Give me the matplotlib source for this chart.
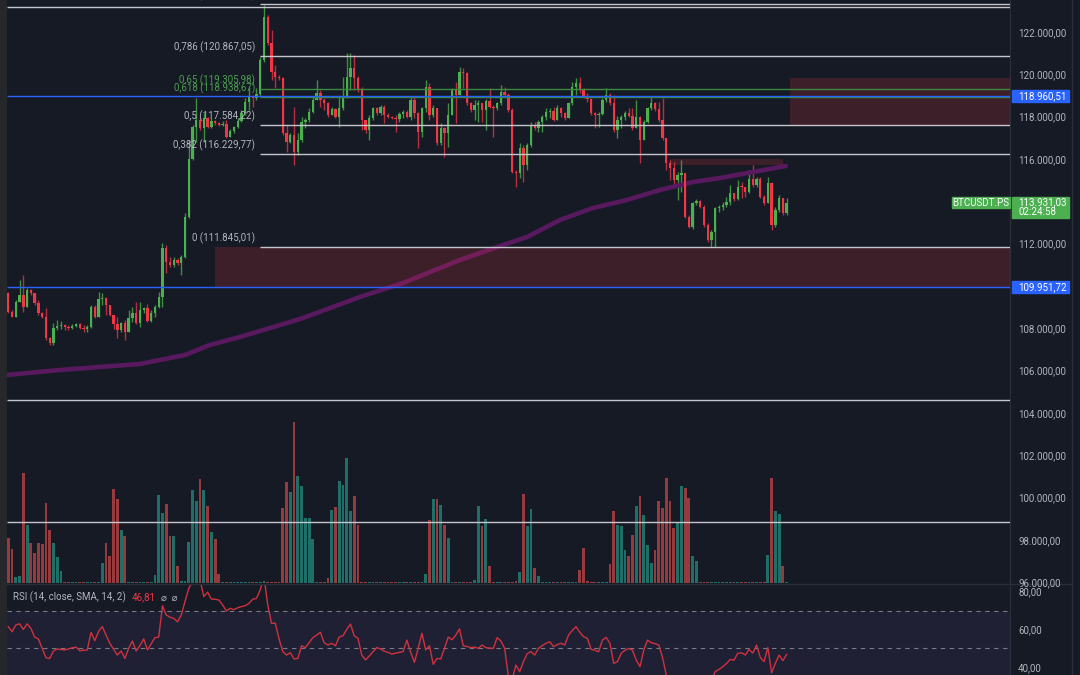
import matplotlib
matplotlib.use('Agg')
import matplotlib.pyplot as plt
import matplotlib.transforms as mtransforms
from matplotlib.patches import Rectangle

plt.rcParams['font.family'] = ['Roboto', 'DejaVu Sans']

# candles, oldest first; every candle opens at the previous close
first_open = 109642
closes = [
    108775, 108539, 109248, 109563, 109011, 109799, 109642, 109169, 108697, 108508,
    107515, 107279, 107988, 108114, 108161, 108035, 107988, 108114, 108177, 107988,
    107941, 108067, 109011, 108508, 109358, 109405, 109090, 108618, 108193, 107909,
    108224, 107830, 108460, 108728, 108224, 108854, 108933, 108334, 108697, 109011,
    109484, 111768, 111138, 110980, 111217, 111090, 111374, 113261, 115970, 117514,
    117829, 117435, 117908, 117514, 117798, 117672, 117610, 117640, 117042, 117325,
    117514, 117798, 118144, 118695, 118932, 118853, 119058, 120664, 122712, 121452,
    120113, 119876, 119798, 117199, 116805, 117120, 116333, 116884, 117750, 117829,
    118222, 118774, 119089, 118774, 118617, 118066, 118333, 117987, 118380, 118932,
    119877, 120271, 119799, 119248, 117830, 117358, 117909, 118381, 118145, 118460,
    118066, 117988, 117930, 117862, 118114, 118224, 117988, 118775, 118145, 117279,
    118381, 119405, 118066, 118381, 116728, 117437, 117200, 118066, 119248, 119011,
    120114, 120066, 118618, 118303, 118539, 118618, 118303, 118744, 118460, 118381,
    118618, 119169, 119011, 118303, 115389, 115310, 116491, 115704, 116649, 117594,
    117437, 117752, 117988, 118224, 118271, 117830, 118381, 118145, 117909, 118618,
    119405, 119563, 119248, 118933, 118807, 118145, 118066, 118114, 118775, 119011,
    118618, 117358, 117830, 117956, 118177, 118019, 117437, 117956, 116885, 117752,
    118381, 118618, 118334, 117830, 116964, 115783, 115547, 114995, 115231, 115310,
    113263, 112791, 113894, 114020, 113736, 112870, 112161, 112555, 113658, 113736,
    113815, 113973, 114366, 114083, 114681, 114650, 114445, 115028, 114760, 115028,
    114209, 113894, 114870, 112870, 113579, 114130, 113421, 113931,
]
highs = [
    109720, 108854, 109327, 110272, 110508, 109878, 109830, 109642, 109327, 108775,
    108933, 107594, 108224, 108382, 108350, 108193, 108146, 108193, 108224, 108224,
    108146, 108146, 109090, 109090, 109720, 109642, 109484, 109090, 108618, 108508,
    108303, 108382, 108854, 109011, 109248, 109248, 109011, 109138, 108854, 109090,
    109720, 112036, 111925, 111374, 111374, 111295, 111453, 113419, 116884, 117593,
    118853, 117986, 118144, 117986, 117908, 117829, 117750, 117798, 117829, 117388,
    117546, 117908, 118302, 118853, 119404, 119011, 119326, 120821, 123263, 122790,
    122081, 120428, 119955, 119876, 117593, 117199, 118459, 117199, 117986, 117908,
    118380, 118932, 119719, 119246, 118853, 118695, 118459, 118380, 118932, 119876,
    120979, 120980, 120901, 119900, 119405, 117830, 118066, 118460, 118460, 118539,
    118520, 118145, 118040, 118066, 118224, 118303, 118290, 118901, 118933, 118224,
    118460, 119720, 119563, 118539, 118381, 117673, 117500, 118618, 119327, 119641,
    120350, 120271, 120114, 118697, 118775, 118775, 118618, 118807, 119327, 118539,
    118697, 119484, 119405, 119090, 118381, 115468, 116728, 116649, 116728, 117752,
    117752, 117830, 118066, 118381, 118381, 118460, 118539, 118460, 118224, 118697,
    119641, 119799, 119877, 119327, 119090, 118854, 118224, 118224, 118854, 119327,
    119090, 119011, 118019, 118066, 118271, 118381, 118381, 118775, 118019, 117830,
    118460, 118933, 118697, 118697, 118854, 116964, 115940, 115862, 115389, 115940,
    115310, 113342, 113973, 114083, 114051, 113815, 112949, 112634, 113736, 113815,
    113973, 114209, 114760, 114366, 114996, 114917, 114681, 115469, 115705, 115154,
    115154, 114288, 115154, 114917, 113736, 114288, 114130, 114130,
]
lows = [
    108697, 108508, 108500, 109248, 108775, 108980, 109563, 109090, 108618, 108460,
    107436, 107200, 107200, 107909, 107941, 107909, 107909, 107941, 108035, 107941,
    107830, 107830, 107988, 108460, 108508, 109090, 108618, 108571, 107941, 107515,
    107830, 107436, 107830, 108303, 108177, 108067, 108697, 108303, 108303, 108539,
    108933, 109011, 110587, 110902, 110902, 110980, 110508, 111293, 113183, 115939,
    116805, 117357, 116805, 117435, 117435, 117593, 117560, 117546, 116963, 117010,
    117199, 117435, 117750, 118066, 118302, 118459, 118774, 118932, 120585, 121373,
    119719, 119325, 119719, 117120, 116333, 116726, 115703, 116175, 116805, 117435,
    117750, 118144, 118774, 118459, 118302, 117986, 118066, 117908, 117514, 118300,
    118850, 119248, 119248, 119169, 117358, 117200, 116885, 117830, 118066, 118066,
    117673, 117909, 117880, 117279, 117752, 117909, 117909, 117830, 117909, 116491,
    117043, 118224, 117830, 117988, 116649, 116649, 116098, 116570, 118066, 117673,
    119011, 119327, 118539, 118224, 117830, 117752, 117752, 117358, 118381, 117043,
    118303, 118539, 118933, 118224, 115310, 114680, 115074, 114916, 115468, 116570,
    117358, 117279, 117279, 117830, 117909, 117799, 117830, 117988, 117830, 117909,
    118539, 119011, 119090, 118854, 118697, 118066, 117437, 117484, 118066, 118697,
    118539, 117279, 116964, 117437, 117830, 117956, 117358, 117437, 115783, 116885,
    117673, 118303, 118271, 117752, 116885, 115468, 114995, 114680, 114050, 114444,
    113184, 112712, 112700, 113815, 113658, 112791, 112082, 111846, 111846, 113500,
    113579, 113736, 113815, 114020, 114051, 114130, 114209, 114398, 114681, 114681,
    114130, 113815, 113894, 112634, 112791, 113500, 113343, 113343,
]
# volume bar heights (arbitrary units)
volumes = [
    45, 34, 6, 7, 110, 58, 40, 30, 40, 39, 80, 53, 40, 26, 12,
    1.5, 1.5, 1.5, 1.5, 1.5, 1.5, 1.5, 1.5, 1.5, 1.5,
    20, 40, 27, 94, 84, 53, 47,
    1.5, 1.5, 1.5, 1.5, 1.5, 1.5, 1.5,
    8, 88, 70, 79, 47, 47, 17, 2, 2,
    41, 93, 82, 104, 93, 77, 51, 44, 9,
    1.5, 1.5, 1.5, 1.5, 1.5, 1.5, 1.5, 1.5, 1.5, 1.5, 1.5, 2, 1.5, 1.5, 1.5, 1.5,
    75, 101, 91, 161, 107, 97, 65, 65, 44,
    1.5, 1.5, 1.5,
    5, 73, 76, 102, 98, 125, 72, 87, 58,
    1.5, 1.5, 1.5, 1.5, 1.5, 1.5, 1.5, 1.5, 1.5, 1.5, 1.5, 1.5, 1.5, 1.5, 1.5, 1.5, 1.5,
    9, 63, 84, 84, 78, 58, 45,
    1.5, 1.5, 1.5, 1.5, 1.5, 1.5,
    3, 77, 57, 64, 17,
    1.5, 1.5, 1.5, 1.5, 1.5, 1.5, 2,
    11, 89, 57, 74, 15, 7,
    1.5, 1.5, 1.5, 1.5, 1.5, 1.5, 1.5, 1.5, 1.5, 1.5,
    13, 35, 2,
    1.5, 1.5, 1.5, 1.5, 1.5,
    19, 72, 58, 57, 33, 27, 48, 77, 87, 68, 38, 20, 33, 82, 75, 105, 82, 55, 60, 97,
    95, 85, 27, 22,
    1.5, 1.5, 1.5, 1.5, 1.5, 1.5, 1.5, 1.5, 1.5, 1.5, 1.5, 1.5, 1.5, 1.5, 1.5, 1.5, 1.5, 1.5,
    28, 105, 72, 69, 17, 1,
]
rsi = [
    61.5, 58.8, 62.4, 63.0, 60.0, 63.0, 60.6, 56.0, 55.0, 50.0,
    45.1, 44.7, 48.6, 49.7, 49.4, 49.2, 49.7, 50.3, 50.7, 48.8,
    49.0, 49.2, 58.5, 54.1, 59.0, 61.5, 57.0, 52.7, 49.5, 46.5,
    48.6, 44.7, 50.0, 53.9, 48.6, 51.5, 55.0, 49.2, 52.5, 55.7,
    56.0, 72.6, 67.7, 66.5, 65.9, 64.1, 67.7, 75.0, 81.8, 85.3,
    88.0, 86.0, 77.4, 79.7, 76.1, 76.0, 75.6, 73.0, 69.8, 71.2,
    70.5, 71.5, 72.1, 72.6, 73.8, 76.0, 76.5, 81.0, 88.0, 73.0,
    63.3, 63.3, 55.0, 48.3, 46.5, 47.7, 44.4, 44.7, 51.4, 50.4,
    53.0, 55.7, 57.0, 58.5, 53.0, 51.8, 52.7, 51.4, 56.0, 56.7,
    60.0, 62.9, 56.6, 55.3, 46.5, 43.9, 46.0, 48.3, 50.4, 49.7,
    48.5, 47.9, 47.0, 47.5, 47.9, 48.3, 54.4, 48.0, 42.6, 50.0,
    58.0, 49.2, 51.4, 41.6, 44.7, 44.4, 50.0, 56.0, 54.6, 57.0,
    60.3, 51.4, 51.0, 50.4, 50.7, 50.0, 51.8, 50.4, 50.2, 50.0,
    55.7, 53.9, 50.0, 35.0, 33.5, 41.2, 37.7, 43.0, 47.2, 48.3,
    46.5, 50.0, 51.5, 52.7, 53.5, 50.9, 52.0, 52.7, 51.8, 57.1,
    59.5, 61.5, 58.5, 56.2, 55.3, 49.5, 49.0, 48.2, 54.4, 55.8,
    52.7, 42.1, 43.0, 47.4, 49.0, 50.0, 49.1, 43.8, 40.3, 49.1,
    54.4, 53.0, 52.5, 51.8, 45.0, 35.9, 31.0, 29.5, 31.5, 33.0,
    27.0, 25.5, 30.0, 31.0, 30.5, 28.0, 24.0, 33.0, 37.7, 38.9,
    40.3, 42.0, 44.2, 43.8, 47.4, 47.7, 46.5, 49.5, 47.5, 51.8,
    45.2, 43.0, 50.5, 37.1, 42.1, 46.5, 43.5, 46.81,
]

# long moving average, read at a few candle positions
ma_x = [-0.35, 13.75, 24.4, 35.0, 47.0, 53.6, 61.6, 69.6, 77.6, 85.6, 93.5,
        105.0, 120.1, 131.6, 138.0, 146.7, 155.5, 164.5, 173.3, 182.1, 189.3, 206.8]
ma_values = [105784, 106021, 106163, 106304, 106729, 107202, 107580, 108005, 108430,
             108950, 109470, 110131, 111217, 111925, 112303, 113106, 113673, 114051,
             114523, 114901, 115090, 115657]

fib_levels = [1, 0.786, 0.65, 0.618, 0.5, 0.382, 0]
fib_prices = [123323.41, 120867.05, 119305.98, 118938.67, 117584.22, 116229.77, 111845.01]
fib_start = 67
green_fibs = (0.65, 0.618)
blue_levels = [118960.51, 109951.72]
grey_levels = [123180, 104600, 98830]
# (first candle, last candle or None for the right edge, low, high)
zones = [(208, None, 117560, 119800),
         (55, None, 109951.72, 111845.01),
         (176, 206, 115700, 115990)]

price_ticks = list(range(96000, 124000, 2000))
rsi_ticks = [40, 60, 80]
last_price = 113931.03
countdown = '02:24:58'
symbol = 'BTCUSDT.PS'
rsi_title = 'RSI (14, close, SMA, 14, 2)'

BG = '#161a25'
GRID = '#2a2e39'
TXT = '#b2b5be'
UP = '#4caf50'
DOWN = '#f23645'
BLUE = '#2962ff'
W, H = 1080, 675
X_LEFT, X_RIGHT = -0.35, 266.4


def de(v, d=2):
    s = f'{v:,.{d}f}'
    return s.replace(',', 'X').replace('.', ',').replace('X', '.')


fig = plt.figure(figsize=(W / 100, H / 100), dpi=100, facecolor=BG)
ax = fig.add_axes([7 / W, (H - 583.3) / H, 1003 / W, 583.3 / H])
ax_rsi = fig.add_axes([7 / W, 0, 1003 / W, (H - 584) / H])
ax_v = ax.twinx()
ax.set_zorder(2)
ax_v.set_zorder(1)
ax.patch.set_visible(False)
ax_v.patch.set_visible(False)
ax_rsi.set_facecolor(BG)

x = list(range(len(closes)))
opens = [first_open] + closes[:-1]
up = [c >= o for o, c in zip(opens, closes)]

# volume
ax_v.bar(x, volumes, width=0.75, color=['#1f6e68' if u else '#973a3d' for u in up], zorder=1)
ax_v.set_ylim(0, 583.3)
ax_v.axis('off')

# candles
ax.vlines(x, lows, highs, colors=['#3f8f43' if u else '#b8303f' for u in up], linewidth=1, zorder=2)
bottoms = [min(o, c) for o, c in zip(opens, closes)]
heights = [max(abs(c - o), 50) for o, c in zip(opens, closes)]
ax.bar(x, heights, bottom=bottoms, width=0.62, color=[UP if u else DOWN for u in up], zorder=3)

ax.plot(ma_x, ma_values, color='#58195f', lw=3.3, solid_capstyle='round', zorder=2.5)

# zones
for start, end, lo, hi in zones:
    end = X_RIGHT if end is None else end
    ax.add_patch(Rectangle((start, lo), end - start, hi - lo, color=DOWN, alpha=0.18, lw=0, zorder=4))

# horizontal levels
for lvl in grey_levels:
    ax.hlines(lvl, X_LEFT, X_RIGHT, color='#c4c6cc', lw=1.0, zorder=5)
for lvl, price in zip(fib_levels, fib_prices):
    col = '#3c8a3f' if lvl in green_fibs else '#c4c6cc'
    ax.hlines(price, fib_start, X_RIGHT, color=col, lw=1.0, zorder=5)
    name = str(lvl).replace('.', ',')
    ax.annotate(f'{name} ({de(price)})', xy=(fib_start, price), xytext=(-3.6, 6.1),
                textcoords='offset points', ha='right', va='center', fontsize=7,
                color='#4a9f4d' if lvl in green_fibs else TXT, zorder=6)
for lvl in blue_levels:
    ax.hlines(lvl, X_LEFT, X_RIGHT, color=BLUE, lw=1.0, zorder=5.5)

ax.set_xlim(X_LEFT, X_RIGHT)
ax.set_ylim(95944, 123498)
ax.yaxis.tick_right()
ax.set_yticks(price_ticks)
ax.set_yticklabels([de(t) for t in price_ticks])
ax.set_xticks([])
ax.tick_params(axis='y', length=0, pad=5.8, labelsize=7, labelcolor=TXT)
for s in ax.spines.values():
    s.set_visible(False)

# price tags on the right scale
tr = mtransforms.blended_transform_factory(ax.transAxes, ax.transData)
for lvl in blue_levels:
    ax.add_patch(Rectangle((1.002, lvl - 276), 0.0568, 552, transform=tr, color=BLUE,
                           clip_on=False, zorder=7))
    ax.text(1.008, lvl, de(lvl), transform=tr, ha='left', va='center', fontsize=7,
            color='white', zorder=8)
ax.add_patch(Rectangle((1.002, 113187), 0.0568, 1020, transform=tr, color=UP,
                       clip_on=False, zorder=7))
ax.text(1.008, last_price, de(last_price), transform=tr, ha='left', va='center',
        fontsize=7, color='white', zorder=8)
ax.text(1.008, 113484, countdown, transform=tr, ha='left', va='center',
        fontsize=7, color='white', zorder=8)
ax.add_patch(Rectangle((0.9419, 113659), 0.0581, 548, transform=tr, color=UP,
                       clip_on=False, zorder=7))
ax.text(0.971, last_price, symbol, transform=tr, ha='center', va='center',
        fontsize=7, color='white', zorder=8)

# RSI pane
ax_rsi.axhspan(30, 70, color='#7e57c2', alpha=0.1, lw=0)
for lvl in (70, 50, 30):
    ax_rsi.axhline(lvl, color='#787b86', lw=0.8, ls=(0, (4, 4)))
ax_rsi.plot(x, rsi, color='#d0313f', lw=1.0)
ax_rsi.set_xlim(X_LEFT, X_RIGHT)
ax_rsi.set_ylim(35.93, 84.07)
ax_rsi.yaxis.tick_right()
ax_rsi.set_yticks(rsi_ticks)
ax_rsi.set_yticklabels([de(t) for t in rsi_ticks])
ax_rsi.set_xticks([])
ax_rsi.tick_params(axis='y', length=0, pad=5.8, labelsize=7, labelcolor=TXT)
for s in ax_rsi.spines.values():
    s.set_visible(False)
t1 = ax_rsi.text(0.006, 0.85, rsi_title, transform=ax_rsi.transAxes, fontsize=7,
                 color=TXT, va='center')
t2 = ax_rsi.annotate(de(rsi[-1]), xy=(1, 0.5), xycoords=t1, xytext=(4, 0),
                     textcoords='offset points', va='center', fontsize=7, color=DOWN)
ax_rsi.annotate('\u2300  \u2300', xy=(1, 0.5), xycoords=t2, xytext=(4, 0),
                textcoords='offset points', va='center', fontsize=7, color=TXT)

# frame lines and left strip
fig.add_artist(Rectangle((0, 0), 7 / W, 1, transform=fig.transFigure, color='#26272b', lw=0))
fig.add_artist(plt.Line2D([1010 / W, 1010 / W], [0, 1], transform=fig.transFigure, color=GRID, lw=1))
fig.add_artist(plt.Line2D([1071.5 / W, 1071.5 / W], [0, 1], transform=fig.transFigure, color=GRID, lw=1))
fig.add_artist(plt.Line2D([7 / W, 1071 / W], [(H - 583.6) / H] * 2, transform=fig.transFigure, color=GRID, lw=1))

fig.savefig('out.png', dpi=100, facecolor=BG)
